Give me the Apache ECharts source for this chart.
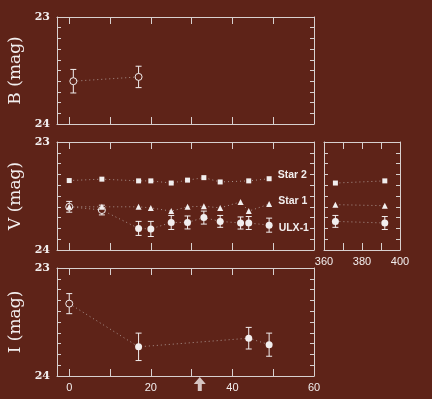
<!DOCTYPE html>
<html lang="en">
<head>
<meta charset="UTF-8">
<title>ULX-1 light curves</title>
<style>
html,body{margin:0;padding:0;background:#5e2318;}
#main{width:432px;height:399px;}
</style>
</head>
<body>
<div id="main"></div>
<script src="https://cdn.jsdelivr.net/npm/echarts@6/dist/echarts.min.js"></script>
<script>
// B band (days, mag, error)
var bDays = [1, 17];
var bMag = [23.60, 23.56];
var bErr = [0.11, 0.10];
var bOpen = [true, true];

// V band, first epochs (0-60 d)
var vDays = [0, 8, 17, 20, 25, 29, 33, 37, 42, 44, 49];
var ulxV = [23.60, 23.63, 23.80, 23.805, 23.745, 23.745, 23.70, 23.735, 23.75, 23.75, 23.77];
var ulxVErr = [0.05, 0.045, 0.065, 0.07, 0.065, 0.06, 0.06, 0.055, 0.056, 0.06, 0.065];
var ulxOpen = [true, true, false, false, false, false, false, false, false, false, false];
var star1V = [23.60, 23.60, 23.60, 23.61, 23.64, 23.60, 23.595, 23.61, 23.555, 23.64, 23.575];
var star2Days = [0, 8, 17, 20, 25, 29, 33, 37, 44, 49];
var star2V = [23.357, 23.344, 23.36, 23.36, 23.38, 23.353, 23.33, 23.37, 23.36, 23.34];

// V band, late epochs (360-400 d)
var lateDays = [366, 392];
var ulxLate = [23.735, 23.75];
var ulxLateErr = [0.055, 0.06];
var star1Late = [23.58, 23.59];
var star2Late = [23.38, 23.36];

// I band
var iDays = [0, 17, 44, 49];
var iMag = [23.33, 23.73, 23.65, 23.71];
var iErr = [0.093, 0.127, 0.10, 0.107];
var iOpen = [true, false, false, false];

// arrow marker under the I panel
var arrowDay = 32;
var arrowMag = 24.074;

// ticks
var xTicks = [0, 10, 20, 30, 40, 50, 60];
var xLabels = [0, 20, 40, 60];
var lateTicks = [370, 380, 390];
var lateLabels = [360, 380, 400];
var yTicks = [23, 23.1, 23.2, 23.3, 23.4, 23.5, 23.6, 23.7, 23.8, 23.9, 24];
var yLabels = [23, 24];

var bg = '#5e2318';
var fg = '#f2eeee';
var axisCol = '#d8d0cf';
var dotCol = '#a8928d';

var myChart = echarts.init(document.getElementById('main'));

var grids = [
    {left: 57, top: 17, width: 257, height: 107},
    {left: 57, top: 142, width: 257, height: 108},
    {left: 324, top: 142, width: 76, height: 108},
    {left: 57, top: 268, width: 257, height: 108}
];
grids.forEach(function (g) { g.outerBoundsMode = 'none'; g.containLabel = false; });

var xAxes = [];
var yAxes = [];

function addX(grid, min, max, ticks, labels) {
    ['bottom', 'top'].forEach(function (pos) {
        xAxes.push({
            type: 'value', gridIndex: grid, position: pos, min: min, max: max,
            axisLine: {show: true, onZero: false, lineStyle: {color: axisCol, width: 1}},
            axisTick: {show: true, inside: true, length: 7, customValues: ticks, lineStyle: {color: axisCol}},
            axisLabel: {
                show: pos === 'bottom' && labels !== null,
                customValues: labels || [], margin: 6,
                color: fg, fontFamily: 'Liberation Sans', fontSize: 11
            },
            splitLine: {show: false}
        });
    });
}

function addY(grid, name, labels) {
    ['left', 'right'].forEach(function (pos) {
        yAxes.push({
            type: 'value', gridIndex: grid, position: pos, min: 23, max: 24, inverse: true,
            name: pos === 'left' ? name : '',
            nameLocation: 'middle', nameGap: 29, nameRotate: 90,
            nameTextStyle: {color: fg, fontFamily: 'DejaVu Serif', fontSize: 17},
            axisLine: {show: true, onZero: false, lineStyle: {color: axisCol, width: 1}},
            axisTick: {show: true, inside: true, length: 4, customValues: yTicks, lineStyle: {color: axisCol}},
            axisLabel: {
                show: pos === 'left' && labels,
                customValues: yLabels, margin: 7,
                color: fg, fontFamily: 'DejaVu Serif', fontWeight: 'bold', fontSize: 11
            },
            splitLine: {show: false}
        });
    });
}

addX(0, -3, 60, xTicks, null);
addX(1, -3, 60, xTicks, null);
addX(2, 360, 400, lateTicks, lateLabels);
addX(3, -3, 60, xTicks, xLabels);
addY(0, 'B (mag)', true);
addY(1, 'V (mag)', true);
addY(2, '', false);
addY(3, 'I (mag)', true);

function errRender(params, api) {
    var x = api.value(0);
    var p1 = api.coord([x, api.value(1)]);
    var p2 = api.coord([x, api.value(2)]);
    var w = 3;
    var st = {stroke: fg, lineWidth: 1};
    return {
        type: 'group', children: [
            {type: 'line', shape: {x1: p1[0], y1: p1[1], x2: p2[0], y2: p2[1]}, style: st},
            {type: 'line', shape: {x1: p1[0] - w, y1: p1[1], x2: p1[0] + w, y2: p1[1]}, style: st},
            {type: 'line', shape: {x1: p2[0] - w, y1: p2[1], x2: p2[0] + w, y2: p2[1]}, style: st}
        ]
    };
}

function errSeries(grid, xs, ys, es) {
    return {
        type: 'custom', xAxisIndex: grid * 2, yAxisIndex: grid * 2, z: 1,
        renderItem: errRender, encode: {x: 0, y: [1, 2]}, silent: true,
        data: xs.map(function (x, i) { return [x, ys[i] - es[i], ys[i] + es[i]]; })
    };
}

function lineSeries(grid, xs, ys, symbol, size, open, label, z) {
    var data = xs.map(function (x, i) {
        var isOpen = open && open[i];
        var d = {
            value: [x, ys[i]],
            itemStyle: isOpen ? {color: bg, borderColor: fg, borderWidth: 1} : {color: fg, borderWidth: 0}
        };
        if (label && i === xs.length - 1) {
            d.label = {
                show: true, position: 'right', distance: label.dist, offset: [0, label.dy],
                formatter: label.text, color: fg, fontFamily: 'Liberation Sans', fontWeight: 'bold', fontSize: 10.5
            };
        }
        return d;
    });
    return {
        type: 'line', xAxisIndex: grid * 2, yAxisIndex: grid * 2, z: z || 2,
        symbol: symbol, symbolSize: size, showSymbol: true, silent: true,
        lineStyle: {color: dotCol, width: 1, type: [1, 3]},
        data: data
    };
}

var series = [
    errSeries(0, bDays, bMag, bErr),
    lineSeries(0, bDays, bMag, 'circle', 7, bOpen),

    errSeries(1, vDays, ulxV, ulxVErr),
    lineSeries(1, vDays, ulxV, 'circle', 7, ulxOpen, {text: 'ULX-1', dist: 6, dy: 3}),
    lineSeries(1, vDays, star1V, 'triangle', 6, null, {text: 'Star 1', dist: 6, dy: -3}, 3),
    lineSeries(1, star2Days, star2V, 'rect', 5, null, {text: 'Star 2', dist: 6, dy: -4}),

    errSeries(2, lateDays, ulxLate, ulxLateErr),
    lineSeries(2, lateDays, ulxLate, 'circle', 7, null),
    lineSeries(2, lateDays, star1Late, 'triangle', 6, null),
    lineSeries(2, lateDays, star2Late, 'rect', 5, null),

    errSeries(3, iDays, iMag, iErr),
    lineSeries(3, iDays, iMag, 'circle', 7, iOpen),
    {
        type: 'scatter', xAxisIndex: 6, yAxisIndex: 6, clip: false, silent: true,
        symbol: 'path://M6,0L12,7L8,7L8,14L4,14L4,7L0,7Z', symbolSize: [12, 14],
        itemStyle: {color: fg},
        data: [[arrowDay, arrowMag]]
    }
];

myChart.setOption({
    backgroundColor: bg,
    animation: false,
    grid: grids,
    xAxis: xAxes,
    yAxis: yAxes,
    series: series
});
</script>
</body>
</html>
